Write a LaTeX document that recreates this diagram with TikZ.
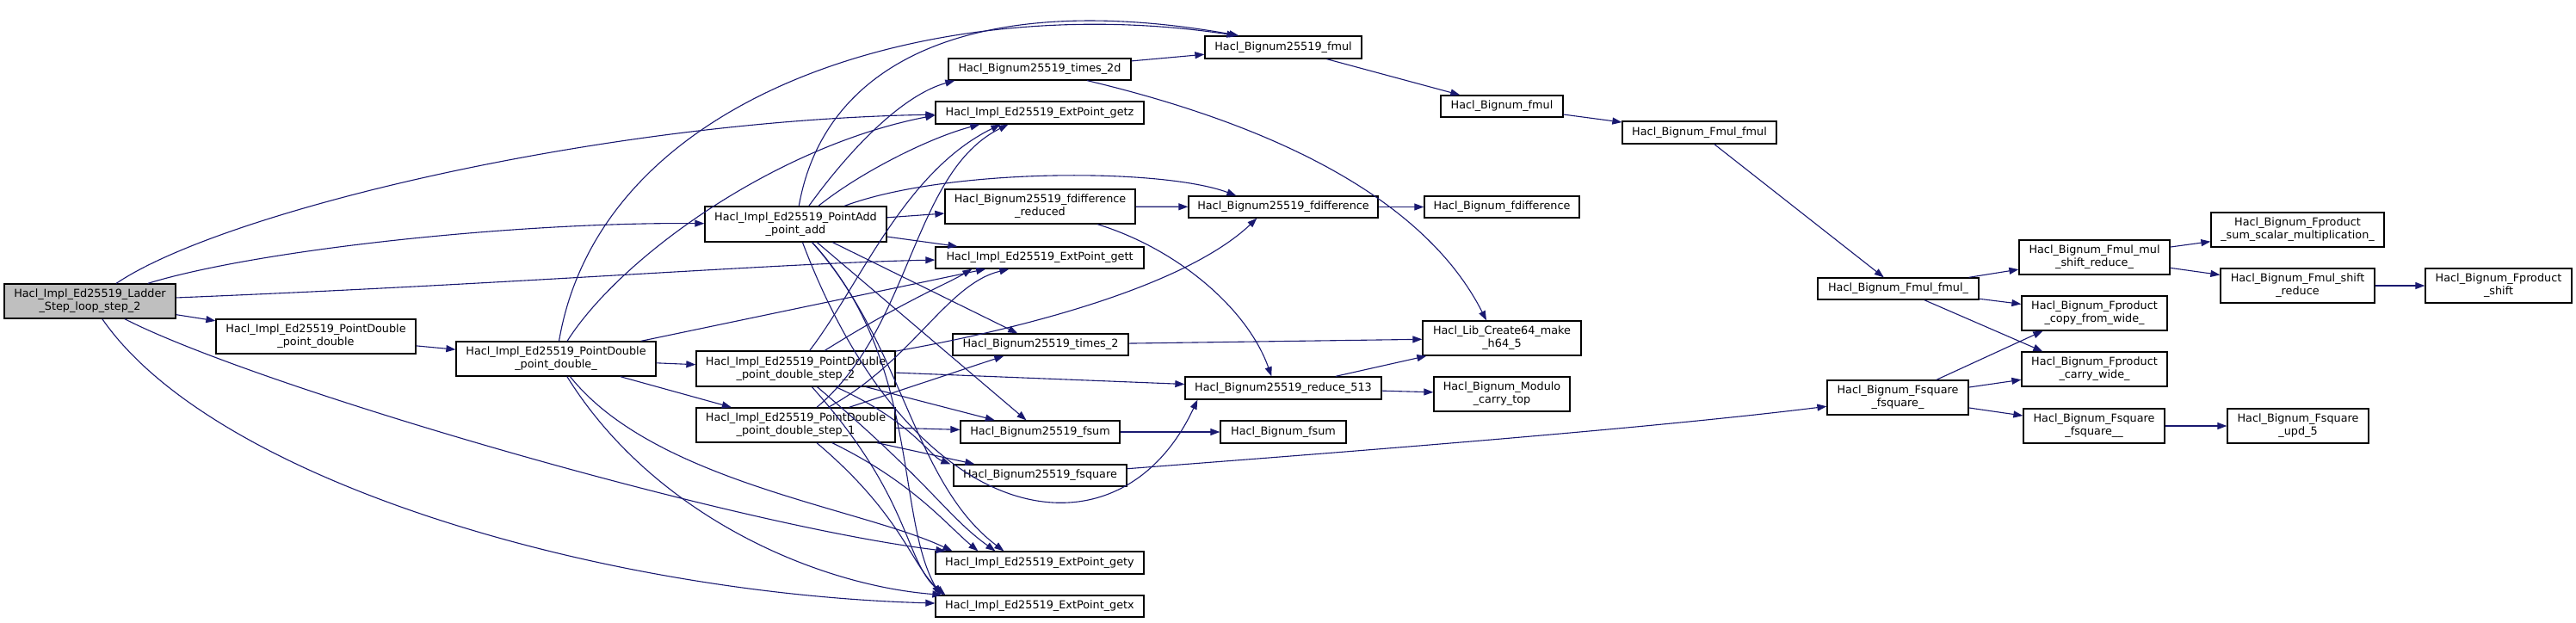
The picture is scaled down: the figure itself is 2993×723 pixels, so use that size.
\documentclass[tikz,border=0pt]{standalone}
\usepackage{fontspec}
\setmainfont{DejaVu Sans}
\usetikzlibrary{arrows.meta,calc}
\definecolor{edgeblue}{RGB}{25,25,112}
\definecolor{rootgray}{RGB}{191,191,191}
\tikzset{
  fn/.style   ={draw=black, line width=1.3pt, fill=white, inner sep=0pt, align=center,
                font=\fontsize{12.8}{15}\selectfont},
  root/.style ={fn, fill=rootgray},
  call/.style ={draw=edgeblue, line width=1.1pt, -{Triangle[length=11pt,width=8pt]}},
}
\newcommand{\fnbox}[6]{% name, x1, y1, x2, y2, text
  \node[fn, minimum width={#4-#2}, minimum height={#5-#3}] (#1) at ({(#2+#4)/2},{(#3+#5)/2}) {#6};}

\begin{document}
\begin{tikzpicture}[x=1pt,y=-1pt]
  \useasboundingbox (0,0) rectangle (2993,723);
  % nodes
  \node[root, minimum width=199, minimum height=40] (ladder) at (104.5,350) {Hacl\_Impl\_Ed25519\_Ladder\\\_Step\_loop\_step\_2};
  \fnbox{pdbl}{251}{371}{483}{411}{Hacl\_Impl\_Ed25519\_PointDouble\\\_point\_double}
  \fnbox{pdblu}{530}{397}{762}{437}{Hacl\_Impl\_Ed25519\_PointDouble\\\_point\_double\_}
  \fnbox{padd}{819}{240}{1030}{281}{Hacl\_Impl\_Ed25519\_PointAdd\\\_point\_add}
  \fnbox{stepb}{809}{408}{1040}{449}{Hacl\_Impl\_Ed25519\_PointDouble\\\_point\_double\_step\_2}
  \fnbox{stepa}{809}{474}{1040}{514}{Hacl\_Impl\_Ed25519\_PointDouble\\\_point\_double\_step\_1}
  \fnbox{fmul}{1400}{42}{1582}{68}{Hacl\_Bignum25519\_fmul}
  \fnbox{timesd}{1102}{68}{1314}{93}{Hacl\_Bignum25519\_times\_2d}
  \fnbox{getz}{1087}{118}{1329}{144}{Hacl\_Impl\_Ed25519\_ExtPoint\_getz}
  \fnbox{fdred}{1098}{220}{1319}{260}{Hacl\_Bignum25519\_fdifference\\\_reduced}
  \fnbox{fdiff}{1381}{228}{1601}{253}{Hacl\_Bignum25519\_fdifference}
  \fnbox{gett}{1087}{287}{1329}{312}{Hacl\_Impl\_Ed25519\_ExtPoint\_gett}
  \fnbox{timestwo}{1107}{388}{1311}{413}{Hacl\_Bignum25519\_times\_2}
  \fnbox{fsum}{1116}{489}{1301}{515}{Hacl\_Bignum25519\_fsum}
  \fnbox{fsq}{1108}{540}{1309}{565}{Hacl\_Bignum25519\_fsquare}
  \fnbox{gety}{1087}{641}{1329}{667}{Hacl\_Impl\_Ed25519\_ExtPoint\_gety}
  \fnbox{getx}{1087}{692}{1329}{717}{Hacl\_Impl\_Ed25519\_ExtPoint\_getx}
  \fnbox{redu}{1377}{438}{1605}{464}{Hacl\_Bignum25519\_reduce\_513}
  \fnbox{bfsum}{1418}{489}{1564}{515}{Hacl\_Bignum\_fsum}
  \fnbox{bfmul}{1674}{111}{1816}{136}{Hacl\_Bignum\_fmul}
  \fnbox{bfdiff}{1655}{228}{1835}{253}{Hacl\_Bignum\_fdifference}
  \fnbox{mkh}{1653}{373}{1837}{413}{Hacl\_Lib\_Create64\_make\\\_h64\_5}
  \fnbox{carrytop}{1666}{438}{1824}{478}{Hacl\_Bignum\_Modulo\\\_carry\_top}
  \fnbox{fmulf}{1885}{141}{2064}{167}{Hacl\_Bignum\_Fmul\_fmul}
  \fnbox{fmulfu}{2112}{323}{2299}{348}{Hacl\_Bignum\_Fmul\_fmul\_}
  \fnbox{fsqf}{2123}{442}{2287}{482}{Hacl\_Bignum\_Fsquare\\\_fsquare\_}
  \fnbox{mulshift}{2346}{279}{2521}{319}{Hacl\_Bignum\_Fmul\_mul\\\_shift\_reduce\_}
  \fnbox{copywide}{2349}{344}{2518}{384}{Hacl\_Bignum\_Fproduct\\\_copy\_from\_wide\_}
  \fnbox{carrywide}{2349}{409}{2518}{449}{Hacl\_Bignum\_Fproduct\\\_carry\_wide\_}
  \fnbox{fsqfu}{2351}{475}{2515}{515}{Hacl\_Bignum\_Fsquare\\\_fsquare\_\_}
  \fnbox{sumscal}{2569}{247}{2770}{287}{Hacl\_Bignum\_Fproduct\\\_sum\_scalar\_multiplication\_}
  \fnbox{shiftred}{2580}{312}{2759}{352}{Hacl\_Bignum\_Fmul\_shift\\\_reduce}
  \fnbox{updf}{2588}{475}{2752}{515}{Hacl\_Bignum\_Fsquare\\\_upd\_5}
  \fnbox{pshift}{2818}{312}{2988}{352}{Hacl\_Bignum\_Fproduct\\\_shift}
  % calls from ladder
  \draw[call] (ladder) .. controls (260,245) and (700,140) .. (getz);
  \draw[call] (ladder) .. controls (300,290) and (600,258) .. (padd);
  \draw[call] (ladder) .. controls (600,330) and (900,306) .. (gett);
  \draw[call] (ladder) -- (pdbl);
  \draw[call] (ladder) .. controls (300,450) and (850,610) .. ([xshift=12pt]gety.north west);
  \draw[call] (ladder) .. controls (250,560) and (700,690) .. (getx);
  % point_double
  \draw[call] (pdbl) -- (pdblu);
  \draw[call] (pdblu) -- (stepb);
  \draw[call] (pdblu) -- (stepa);
  \draw[call] (pdblu) .. controls (700,100) and (1100,-10) .. ([xshift=37pt]fmul.north west);
  \draw[call] (pdblu) .. controls (720,300) and (900,170) .. ([yshift=-3pt]getz.west);
  \draw[call] (pdblu) -- (gett);
  \draw[call] (pdblu) .. controls (760,560) and (1000,590) .. ([xshift=20pt]gety.north west);
  \draw[call] (pdblu) .. controls (760,600) and (950,680) .. ([xshift=8pt]getx.north west);
  % point_add
  \draw[call] (padd) .. controls (960,60) and (1150,-10) .. ([xshift=40pt]fmul.north west);
  \draw[call] (padd) .. controls (990,170) and (1050,110) .. ([xshift=8pt]timesd.south west);
  \draw[call] (padd) .. controls (1000,200) and (1080,160) .. ([xshift=52pt]getz.south west);
  \draw[call] (padd) .. controls (1100,195) and (1350,195) .. ([xshift=56pt]fdiff.north west);
  \draw[call] (padd) -- (fdred);
  \draw[call] (padd) -- (gett);
  \draw[call] (padd) -- (timestwo);
  \draw[call] (padd) -- (fsum);
  \draw[call] (padd) .. controls (1050,400) and (1060,560) .. ([xshift=80pt]gety.north west);
  \draw[call] (padd) .. controls (1070,420) and (1040,600) .. ([xshift=6pt]getx.north west);
  \draw[call] (padd) .. controls (1060,620) and (1300,660) .. ([xshift=15pt]redu.south west);
  % step 2
  \draw[call] (stepb) .. controls (1000,330) and (1050,200) .. ([xshift=76pt]getz.south west);
  \draw[call] (stepb) .. controls (1050,350) and (1100,330) .. ([xshift=43pt]gett.south west);
  \draw[call] (stepb) .. controls (1200,380) and (1380,330) .. ([xshift=80pt]fdiff.south west);
  \draw[call] (stepb) -- (redu);
  \draw[call] (stepb) -- (fsum);
  \draw[call] (stepb) .. controls (1060,490) and (1080,530) .. ([xshift=-3pt]fsq.north west);
  \draw[call] (stepb) .. controls (1080,560) and (1100,600) .. ([xshift=70pt]gety.north west);
  \draw[call] (stepb) .. controls (1060,580) and (1050,650) .. ([xshift=10pt]getx.north west);
  % step 1
  \draw[call] (stepa) .. controls (1060,380) and (1060,200) .. ([xshift=85pt]getz.south west);
  \draw[call] (stepa) .. controls (1060,420) and (1100,330) .. ([xshift=86pt]gett.south west);
  \draw[call] (stepa) -- ([xshift=60pt]timestwo.south west);
  \draw[call] (stepa) -- (fsum);
  \draw[call] (stepa) -- ([xshift=25pt]fsq.north west);
  \draw[call] (stepa) .. controls (1060,560) and (1100,610) .. ([xshift=50pt]gety.north west);
  \draw[call] (stepa) .. controls (1050,600) and (1060,660) .. ([xshift=12pt]getx.north west);
  % bignum25519 level
  \draw[call] (timesd) -- (fmul);
  \draw[call] (timesd) .. controls (1500,150) and (1660,240) .. ([xshift=-18pt]mkh.north);
  \draw[call] (fdred) -- (fdiff);
  \draw[call] (fdred) .. controls (1370,290) and (1450,360) .. ([xshift=101pt]redu.north west);
  \draw[call] (fdiff) -- (bfdiff);
  \draw[call] (timestwo) -- (mkh);
  \draw[call] (redu) -- ([xshift=5pt]mkh.south west);
  \draw[call] (redu) -- (carrytop);
  \draw[call] (fsum) -- (bfsum);
  \draw[call] (fsq) .. controls (1500,530) and (1900,500) .. (fsqf);
  \draw[call] (fmul) -- (bfmul);
  \draw[call] (bfmul) -- (fmulf);
  \draw[call] (fmulf) -- (fmulfu);
  % fmul / fsquare internals
  \draw[call] (fmulfu) -- (mulshift);
  \draw[call] (fmulfu) -- (copywide);
  \draw[call] (fmulfu) -- ([xshift=25pt]carrywide.north west);
  \draw[call] (mulshift) -- (sumscal);
  \draw[call] (mulshift) -- (shiftred);
  \draw[call] (shiftred) -- (pshift);
  \draw[call] (fsqf) -- ([xshift=25pt]copywide.south west);
  \draw[call] (fsqf) -- (carrywide);
  \draw[call] (fsqf) -- (fsqfu);
  \draw[call] (fsqfu) -- (updf);
\end{tikzpicture}
\end{document}
